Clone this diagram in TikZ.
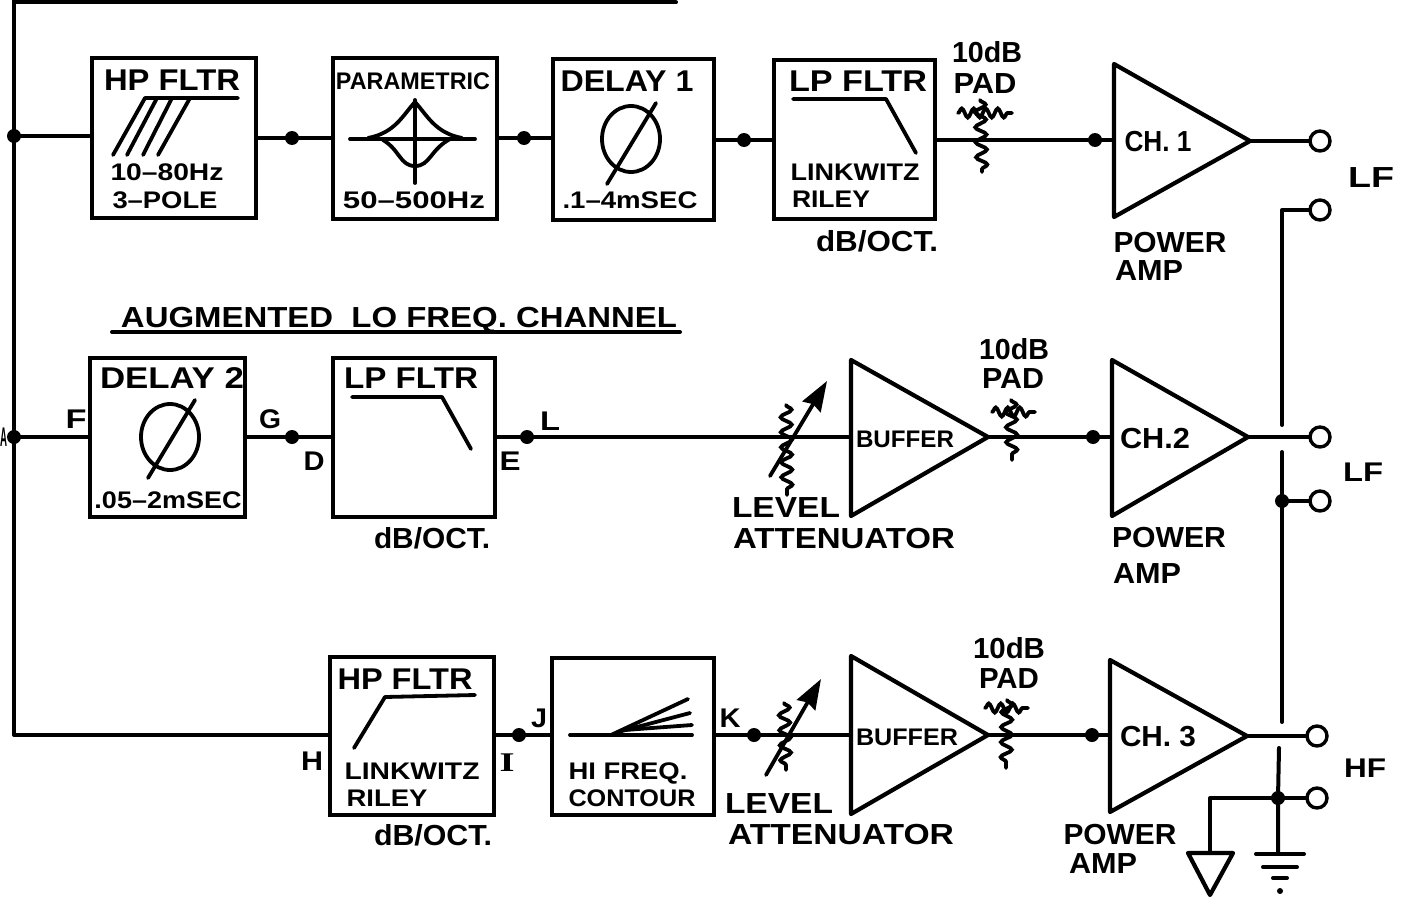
\documentclass[tikz,border=0pt]{standalone}
\usepackage{graphicx}
\usepackage{fontspec}
\setmainfont{Liberation Sans}
\newfontfamily\serifface{Liberation Serif}
\usetikzlibrary{arrows.meta,decorations.pathmorphing,calc}
% name, centre x, baseline y, width, size, text
\newcommand\lbl[6]{\node[lab,font=\fontsize{#5}{#5}\selectfont\bfseries] (#1) at (#2,#3) {\resizebox{#4pt}{\height}{#6}};}
\newcommand\boxat[5]{\node[blockbox,minimum width=#4-#2,minimum height=#5-#3] (#1) at ({(#2+#4)/2},{(#3+#5)/2}) {};}
\newcommand\amp[7]{\draw[ampline] (#2,#3) -- (#4,#5) -- (#6,#7) -- cycle; \coordinate (#1in) at (#2,#7); \coordinate (#1out) at (#6,#7);}
\tikzset{
 lab/.style={inner sep=0pt,outer sep=0pt,anchor=base,text=black},
 blockbox/.style={draw=black,line width=4pt,inner sep=0pt,outer sep=0pt},
 wire/.style={draw=black,line width=4pt,line cap=round,line join=round},
 curve/.style={draw=black,line width=3.8pt,line cap=round,line join=round},
 ampline/.style={draw=black,line width=4.2pt,line join=round},
 jdot/.style={circle,fill=black,draw=none,minimum size=14pt,inner sep=0pt,outer sep=0pt},
 term/.style={circle,draw=black,fill=white,line width=3.4pt,minimum size=20pt,inner sep=0pt,outer sep=0pt},
 squig/.style={draw=black,line width=3.8pt,line cap=round,decorate,decoration={snake,segment length=15pt,amplitude=5.5pt}},
 hsquig/.style={draw=black,line width=3.8pt,line cap=round,decorate,decoration={snake,segment length=12pt,amplitude=4.5pt}},
 arrowline/.style={draw=black,line width=3.8pt,line cap=round,-{Stealth[inset=3pt,length=30pt,width=21pt]}},
}
\begin{document}
\begin{tikzpicture}[x=1pt,y=-1pt]
\useasboundingbox (0,0) rectangle (1405,907);
\fill[white] (0,0) rectangle (1405,907);
% boxes
\boxat{hpa}{92}{58}{256}{218}
\boxat{par}{333}{58}{497}{219}
\boxat{dla}{553}{59}{714}{220}
\boxat{lpa}{774}{60}{935}{219}
\boxat{dlb}{90}{358}{245}{517}
\boxat{lpb}{333}{358}{495}{517}
\boxat{hpc}{330}{657}{494}{815}
\boxat{hfc}{552}{658}{714}{815}
% amplifiers
\amp{cha}{1114}{64}{1114}{217}{1250}{141}
\amp{chb}{1112}{360}{1112}{516}{1248}{437}
\amp{chc}{1110}{660}{1110}{812}{1247}{736}
\amp{bub}{851}{360}{851}{516}{988}{437}
\amp{buc}{851}{656}{851}{814}{988}{735}
% junctions
\node[jdot] (ja) at (14,136) {};
\node[jdot] (jb) at (14,437) {};
\node[jdot] (d1) at (292,138) {};
\node[jdot] (d2) at (524,138) {};
\node[jdot] (d3) at (744,140) {};
\node[jdot] (d4) at (1095,140) {};
\node[jdot] (d5) at (292,437) {};
\node[jdot] (d6) at (527,437) {};
\node[jdot] (d7) at (1093,437) {};
\node[jdot] (d8) at (519,735) {};
\node[jdot] (d9) at (754,735) {};
\node[jdot] (d10) at (1092,735) {};
\node[jdot] (d11) at (1282,501) {};
\node[jdot] (d12) at (1278,798) {};
% terminals
\node[term] (t1) at (1320,141) {};
\node[term] (t2) at (1320,210) {};
\node[term] (t3) at (1320,437) {};
\node[term] (t4) at (1320,501) {};
\node[term] (t5) at (1317,736) {};
\node[term] (t6) at (1317,798) {};
% coordinates
\coordinate (topl) at (14,-2);
\coordinate (toplb) at (14,2.5);
\coordinate (topr) at (676,2.5);
\coordinate (corner) at (14,735);
\coordinate (ra) at (1282,210);
\coordinate (rb) at (1282,425);
\coordinate (rc) at (1282,452);
\coordinate (rd) at (1282,722);
\coordinate (re) at (1279,748);
\coordinate (rf) at (1278,854);
\coordinate (ga) at (1210,798);
\coordinate (gb) at (1210,853);
% wires
\draw[wire] (topl) -- (ja) -- (jb) -- (corner) -- (corner -| hpc.west);
\draw[wire] (toplb) -- (topr);
\draw[wire] (ja) -- (ja -| hpa.west);
\draw[wire] (d1 -| hpa.east) -- (d1) -- (d1 -| par.west);
\draw[wire] (d2 -| par.east) -- (d2) -- (d2 -| dla.west);
\draw[wire] (d3 -| dla.east) -- (d3) -- (d3 -| lpa.west);
\draw[wire] (d4 -| lpa.east) -- (d4) -- (d4 -| chain);
\draw[wire] (chaout) -- (t1.west);
\draw[wire] (jb) -- (jb -| dlb.west);
\draw[wire] (d5 -| dlb.east) -- (d5) -- (d5 -| lpb.west);
\draw[wire] (d6 -| lpb.east) -- (d6) -- (bubin);
\draw[wire] (bubout) -- (d7) -- (chbin);
\draw[wire] (chbout) -- (t3.west);
\draw[wire] (d8 -| hpc.east) -- (d8) -- (d8 -| hfc.west);
\draw[wire] (d9 -| hfc.east) -- (d9) -- (bucin);
\draw[wire] (bucout) -- (d10) -- (d10 -| chcin);
\draw[wire] (chcout) -- (t5.west);
\draw[wire] (t2.west) -- (ra) -- (rb);
\draw[wire] (rc) -- (d11) -- (rd);
\draw[wire] (d11) -- (t4.west);
\draw[wire] (re) -- (d12) -- (rf);
\draw[wire] (d12) -- (t6.west);
\draw[wire] (d12) -- (ga) -- (gb);
% grounds
\draw[ampline] (1188,853) -- (1233,853) -- (1210,895) -- cycle;
\draw[wire] (1256,854) -- (1304,854);
\draw[wire] (1263,867) -- (1297,867);
\draw[wire] (1273,878) -- (1287,878);
\fill (1280,891) circle (3pt);
% pads
\draw[squig] (980,100) -- (982,172);
\draw[hsquig] (958,113) -- (1012,113);
\draw[squig] (1011,400) -- (1012,460);
\draw[hsquig] (992,412) -- (1035,412);
\draw[squig] (1007,700) -- (1006,768);
\draw[hsquig] (985,708) -- (1028,708);
% attenuators
\draw[squig] (786,405) -- (787,495);
\draw[arrowline] (770,476) -- (827,381);
\draw[squig] (784,703) -- (786,770);
\draw[arrowline] (766,775) -- (821,679);
% filter curves
\draw[curve] (238,98) -- (145,98) -- (113,155);
\draw[curve] (157,98) -- (127,155);
\draw[curve] (172,98) -- (143,155);
\draw[curve] (190,98) -- (158,155);
\draw[curve] (350,139) -- (475,139);
\draw[curve] (415,100) -- (415,183);
\draw[curve] (368,138) .. controls (395,133) and (403,115) .. (415,102) .. controls (427,115) and (435,133) .. (462,138);
\draw[curve] (383,140) .. controls (400,150) and (400,166) .. (415,166) .. controls (430,166) and (430,150) .. (450,139);
\draw[curve] (631,139) ellipse (29pt and 33pt);
\draw[curve] (656,103) -- (607,184);
\draw[curve] (793,99) -- (886,99) -- (916,153);
\draw[curve] (170,437) ellipse (29pt and 33pt);
\draw[curve] (195,400) -- (148,478);
\draw[curve] (352,397) -- (442,397) -- (471,449);
\draw[curve] (354,748) -- (385,697) -- (475,695);
\draw[curve] (570,735) -- (692,735);
\draw[curve] (611,735) -- (688,699);
\draw[curve] (618,732) -- (690,713);
\draw[curve] (625,730) -- (692,725);
% underline
\draw[wire] (112,332) -- (680,332);
% labels
\lbl{l1}{172}{90}{136}{30}{HP FLTR}
\lbl{l2}{167}{180}{113}{24}{10–80Hz}
\lbl{l3}{165}{208}{105}{24}{3–POLE}
\lbl{l4}{413}{89}{154}{24}{PARAMETRIC}
\lbl{l5}{414}{208}{142}{24}{50–500Hz}
\lbl{l6}{627}{91}{133}{30}{DELAY 1}
\lbl{l7}{630}{208}{135}{24}{.1–4mSEC}
\lbl{l8}{858}{91}{138}{30}{LP FLTR}
\lbl{l9}{855}{180}{129}{24}{LINKWITZ}
\lbl{l10}{831}{207}{78}{24}{RILEY}
\lbl{l11}{877}{251}{122}{29}{dB/OCT.}
\lbl{l12}{987}{63}{70}{29}{10dB}
\lbl{l13}{985}{93}{63}{29}{PAD}
\lbl{l14}{1158}{151}{67}{29}{CH. 1}
\lbl{l15}{1170}{252}{113}{29}{POWER}
\lbl{l16}{1149}{280}{68}{29}{AMP}
\lbl{l17}{1371}{187}{46}{29}{LF}
\lbl{l18}{399}{327}{556}{29}{AUGMENTED\ \ LO FREQ. CHANNEL}
\lbl{l19}{172}{388}{144}{30}{DELAY 2}
\lbl{l20}{168}{508}{147}{24}{.05–2mSEC}
\lbl{l21}{76}{428}{21}{27}{F}
\lbl{l22}{270}{428}{22}{27}{G}
\lbl{l23}{314}{470}{21}{27}{D}
\lbl{l24}{411}{388}{134}{30}{LP FLTR}
\lbl{l25}{432}{548}{116}{29}{dB/OCT.}
\lbl{l26}{510}{470}{21}{27}{E}
\lbl{l27}{550}{430}{20}{27}{L}
\lbl{l28}{1014}{359}{70}{29}{10dB}
\lbl{l29}{1013}{388}{62}{29}{PAD}
\lbl{l30}{905}{447}{98}{24}{BUFFER}
\lbl{l31}{1155}{448}{70}{29}{CH.2}
\lbl{l32}{786}{517}{108}{29}{LEVEL}
\lbl{l33}{844}{548}{222}{29}{ATTENUATOR}
\lbl{l34}{1169}{547}{114}{29}{POWER}
\lbl{l35}{1147}{583}{68}{29}{AMP}
\lbl{l36}{1363}{481}{40}{27}{LF}
\lbl{l37}{3.6}{446}{7}{27}{A}
\lbl{l38}{312}{770}{22}{27}{H}
\lbl{l39}{507}{771}{15}{27}{{\serifface\bfseries I}}
\lbl{l40}{539}{727}{16}{27}{J}
\lbl{l41}{730}{727}{21}{27}{K}
\lbl{l42}{405}{689}{135}{30}{HP FLTR}
\lbl{l43}{412}{779}{135}{24}{LINKWITZ}
\lbl{l44}{387}{806}{81}{24}{RILEY}
\lbl{l45}{433}{845}{118}{29}{dB/OCT.}
\lbl{l46}{628}{779}{119}{24}{HI FREQ.}
\lbl{l47}{632}{806}{127}{24}{CONTOUR}
\lbl{l48}{1009}{658}{72}{29}{10dB}
\lbl{l49}{1009}{688}{60}{29}{PAD}
\lbl{l50}{907}{745}{102}{24}{BUFFER}
\lbl{l51}{1158}{746}{76}{29}{CH. 3}
\lbl{l52}{779}{813}{108}{29}{LEVEL}
\lbl{l53}{841}{844}{226}{29}{ATTENUATOR}
\lbl{l54}{1120}{844}{113}{29}{POWER}
\lbl{l55}{1103}{873}{68}{29}{AMP}
\lbl{l56}{1365}{777}{42}{27}{HF}
\end{tikzpicture}
\end{document}
